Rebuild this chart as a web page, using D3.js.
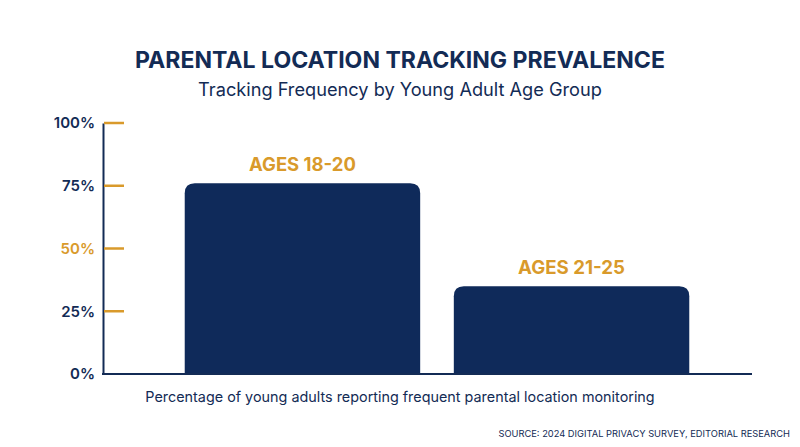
<!DOCTYPE html>
<html>
<head>
<meta charset="utf-8">
<script src="https://cdn.jsdelivr.net/npm/d3@7"></script>
<style>
  html, body { margin: 0; padding: 0; background: #ffffff; }
  svg { display: block; }
</style>
</head>
<body>
<svg id="chart" width="800" height="447"></svg>
<script>
const categories = ["AGES 18-20", "AGES 21-25"];
const values = [76, 35];
const tickValues = [0, 25, 50, 75, 100];
const tickLabels = ["0%", "25%", "50%", "75%", "100%"];
const highlightTick = 50;

const title = "PARENTAL LOCATION TRACKING PREVALENCE";
const subtitle = "Tracking Frequency by Young Adult Age Group";
const caption = "Percentage of young adults reporting frequent parental location monitoring";
const source = "SOURCE: 2024 DIGITAL PRIVACY SURVEY, EDITORIAL RESEARCH";

const NAVY = "#132b55";
const BAR = "#0f2a5a";
const GOLD = "#d99a2b";
const FONT = "Inter, 'Open Sans', sans-serif";

const svg = d3.select("#chart");

const axisX = 103;
const baseEnd = 752;
const y = d3.scaleLinear().domain([0, 100]).range([374, 123]);
const x = d3.scaleBand().domain(categories).range([104, 770]).paddingInner(0.125).paddingOuter(0.3);

function fitText(sel, target, maxSize) {
  const node = sel.node();
  const len = node.getComputedTextLength();
  const size = parseFloat(sel.attr("font-size"));
  let ns = size * target / len;
  if (maxSize) ns = Math.min(ns, maxSize);
  sel.attr("font-size", ns);
}

// Title
fitText(svg.append("text").attr("x", 400).attr("y", 68).attr("text-anchor", "middle")
  .attr("font-family", FONT).attr("font-weight", 700).attr("font-size", 22)
  .attr("fill", NAVY).text(title), 530);

fitText(svg.append("text").attr("x", 400).attr("y", 96).attr("text-anchor", "middle")
  .attr("font-family", FONT).attr("font-weight", 400).attr("font-size", 17)
  .attr("fill", NAVY).text(subtitle), 404);

// Bars with rounded top corners
const r = 10;
svg.append("g").selectAll("path").data(categories).join("path")
  .attr("fill", BAR)
  .attr("d", (d, i) => {
    const x0 = x(d), w = x.bandwidth(), y0 = y(values[i]), yb = y(0);
    return `M${x0},${yb} L${x0},${y0 + r} Q${x0},${y0} ${x0 + r},${y0} L${x0 + w - r},${y0} Q${x0 + w},${y0} ${x0 + w},${y0 + r} L${x0 + w},${yb} Z`;
  });

// Bar labels
svg.append("g").selectAll("text").data(categories).join("text")
  .attr("x", d => x(d) + x.bandwidth() / 2)
  .attr("y", (d, i) => y(values[i]) - 12)
  .attr("text-anchor", "middle")
  .attr("font-family", FONT).attr("font-weight", 700).attr("font-size", 18)
  .attr("fill", GOLD)
  .text(d => d)
  .each(function() { fitText(d3.select(this), 107); });

// Y axis
const yAxis = d3.axisLeft(y).tickValues(tickValues).tickFormat((d, i) => tickLabels[i]).tickSize(0).tickPadding(8);
const gy = svg.append("g").attr("transform", `translate(${axisX},0)`).call(yAxis);
gy.select(".domain").attr("stroke", NAVY).attr("stroke-width", 2);
gy.selectAll(".tick text")
  .attr("font-family", FONT).attr("font-weight", 600).attr("font-size", 15)
  .attr("fill", d => d === highlightTick ? GOLD : NAVY);

// Gold tick marks to the right of axis
svg.append("g").selectAll("line").data(tickValues.filter(d => d > 0)).join("line")
  .attr("x1", axisX + 1).attr("x2", axisX + 21)
  .attr("y1", d => y(d)).attr("y2", d => y(d))
  .attr("stroke", GOLD).attr("stroke-width", 2.5);

// Baseline
svg.append("line").attr("x1", axisX - 1).attr("x2", baseEnd).attr("y1", y(0)).attr("y2", y(0))
  .attr("stroke", NAVY).attr("stroke-width", 2);

// Caption
fitText(svg.append("text").attr("x", 400).attr("y", 402).attr("text-anchor", "middle")
  .attr("font-family", FONT).attr("font-weight", 400).attr("font-size", 15)
  .attr("fill", NAVY).text(caption), 510);

// Source
fitText(svg.append("text").attr("x", 790).attr("y", 437).attr("text-anchor", "end")
  .attr("font-family", FONT).attr("font-weight", 400).attr("font-size", 10)
  .attr("fill", NAVY).text(source), 292);
</script>
</body>
</html>
